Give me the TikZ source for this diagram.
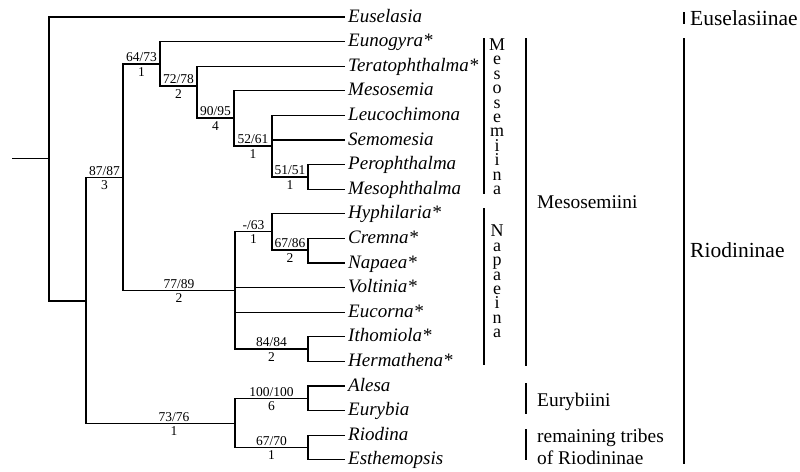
\documentclass[tikz,border=0pt]{standalone}
\usepackage{fontspec}
\setmainfont{Liberation Serif}
\begin{document}
\begin{tikzpicture}[x=1pt,y=-1pt,
  br/.style={line width=1.2pt},
  bar/.style={line width=1.3pt},
  bigbar/.style={line width=2pt},
  tax/.style={font=\fontsize{19}{22}\selectfont\itshape, anchor=base west, inner sep=0pt, xshift=3pt, yshift=-5pt},
  sup/.style={font=\fontsize{13.5}{15}\selectfont, anchor=base, inner sep=0pt, yshift=2.3pt},
  sdn/.style={font=\fontsize{13.5}{15}\selectfont, anchor=base, inner sep=0pt, yshift=-12pt},
  vstack/.style={font=\fontsize{18}{14.4}\selectfont, align=center, anchor=north, inner sep=0pt},
  grp/.style={font=\fontsize{19.4}{21}\selectfont, anchor=base west, inner sep=0pt},
  sfam/.style={font=\fontsize{21.5}{24}\selectfont, anchor=base west, inner sep=0pt}]
\useasboundingbox (0,0) rectangle (800,471);

% tips
\foreach \i in {0,...,18}{
  \coordinate (t\i) at (345,{17+24.6*\i});
}
% internal nodes
\coordinate (r0) at (12,158.5);
\coordinate (root) at (49,158.5);
\coordinate (R) at (86,301);
\coordinate (M) at (123,177.5);
\coordinate (Ms1) at (160,64);
\coordinate (Ms2) at (197,86);
\coordinate (Ms3) at (234,118);
\coordinate (Ms4) at (272,146);
\coordinate (Ms5) at (308,177);
\coordinate (Np) at (235,290.5);
\coordinate (Np1) at (272,231.5);
\coordinate (Np2) at (308,250);
\coordinate (Np3) at (308,349);
\coordinate (Eb) at (235,423.5);
\coordinate (Eb1) at (308,398.5);
\coordinate (Eb2) at (308,447.5);

% branches
\draw[br] (r0) -- (root);
\draw[br] (root) |- (t0);
\draw[br] (root) |- (R);
\draw[br] (R) |- (M);
\draw[br] (R) |- (Eb);
\draw[br] (M) |- (Ms1);
\draw[br] (M) |- (Np);
\draw[br] (Ms1) |- (t1);
\draw[br] (Ms1) |- (Ms2);
\draw[br] (Ms2) |- (t2);
\draw[br] (Ms2) |- (Ms3);
\draw[br] (Ms3) |- (t3);
\draw[br] (Ms3) |- (Ms4);
\draw[br] (Ms4) |- (t4);
\draw[br] (Ms4) |- (t5);
\draw[br] (Ms4) |- (Ms5);
\draw[br] (Ms5) |- (t6);
\draw[br] (Ms5) |- (t7);
\draw[br] (Np) |- (Np1);
\draw[br] (Np1) |- (t8);
\draw[br] (Np1) |- (Np2);
\draw[br] (Np2) |- (t9);
\draw[br] (Np2) |- (t10);
\draw[br] (Np) |- (t11);
\draw[br] (Np) |- (t12);
\draw[br] (Np) |- (Np3);
\draw[br] (Np3) |- (t13);
\draw[br] (Np3) |- (t14);
\draw[br] (Eb) |- (Eb1);
\draw[br] (Eb) |- (Eb2);
\draw[br] (Eb1) |- (t15);
\draw[br] (Eb1) |- (t16);
\draw[br] (Eb2) |- (t17);
\draw[br] (Eb2) |- (t18);

% taxon names
\node[tax] (n0) at (t0) {Euselasia};
\node[tax] (n1) at (t1) {Eunogyra*};
\node[tax] (n2) at (t2) {Teratophthalma*};
\node[tax] (n3) at (t3) {Mesosemia};
\node[tax] (n4) at (t4) {Leucochimona};
\node[tax] (n5) at (t5) {Semomesia};
\node[tax] (n6) at (t6) {Perophthalma};
\node[tax] (n7) at (t7) {Mesophthalma};
\node[tax] (n8) at (t8) {Hyphilaria*};
\node[tax] (n9) at (t9) {Cremna*};
\node[tax] (n10) at (t10) {Napaea*};
\node[tax] (n11) at (t11) {Voltinia*};
\node[tax] (n12) at (t12) {Eucorna*};
\node[tax] (n13) at (t13) {Ithomiola*};
\node[tax] (n14) at (t14) {Hermathena*};
\node[tax] (n15) at (t15) {Alesa};
\node[tax] (n16) at (t16) {Eurybia};
\node[tax] (n17) at (t17) {Riodina};
\node[tax] (n18) at (t18) {Esthemopsis};

% support values
\node[sup] (a1) at (104.5,177.5) {87/87}; \node[sdn] (b1) at (104.5,177.5) {3};
\node[sup] (a2) at (141.5,64) {64/73};    \node[sdn] (b2) at (141.5,64) {1};
\node[sup] (a3) at (178.5,86) {72/78};    \node[sdn] (b3) at (178.5,86) {2};
\node[sup] (a4) at (215.5,118) {90/95};   \node[sdn] (b4) at (215.5,118) {4};
\node[sup] (a5) at (253,146) {52/61};     \node[sdn] (b5) at (253,146) {1};
\node[sup] (a6) at (290,177) {51/51};     \node[sdn] (b6) at (290,177) {1};
\node[sup] (a7) at (179,290.5) {77/89};   \node[sdn] (b7) at (179,290.5) {2};
\node[sup] (a8) at (253.5,231.5) {-/63};  \node[sdn] (b8) at (253.5,231.5) {1};
\node[sup] (a9) at (290,250) {67/86};     \node[sdn] (b9) at (290,250) {2};
\node[sup] (a10) at (271.5,349) {84/84};  \node[sdn] (b10) at (271.5,349) {2};
\node[sup] (a11) at (174,423.5) {73/76};  \node[sdn] (b11) at (174,423.5) {1};
\node[sup] (a12) at (271.5,398.5) {100/100}; \node[sdn] (b12) at (271.5,398.5) {6};
\node[sup] (a13) at (271.5,447.5) {67/70};   \node[sdn] (b13) at (271.5,447.5) {1};

% group bars
\coordinate (msa) at (484,38);   \coordinate (msb) at (484,194);
\coordinate (npa) at (484,208);  \coordinate (npb) at (484,365);
\coordinate (mia) at (526,38);   \coordinate (mib) at (526,366);
\coordinate (eba) at (526,383);  \coordinate (ebb) at (526,414);
\coordinate (rta) at (526,429);  \coordinate (rtb) at (526,460);
\coordinate (esa) at (684,12);   \coordinate (esb) at (684,24);
\coordinate (rda) at (684,38);   \coordinate (rdb) at (684,464);
\draw[bar] (msa) -- (msb);
\draw[bar] (npa) -- (npb);
\draw[bar] (mia) -- (mib);
\draw[bar] (eba) -- (ebb);
\draw[bar] (rta) -- (rtb);
\draw[bigbar] (esa) -- (esb);
\draw[bigbar] (rda) -- (rdb);

% vertical subtribe names
\node[vstack] (msl) at (497,38.6) {M\\e\\s\\o\\s\\e\\m\\i\\i\\n\\a};
\node[vstack] (npl) at (497,225) {N\\a\\p\\a\\e\\i\\n\\a};

% group labels
\node[grp] (gmi) at (537,208.5) {Mesosemiini};
\node[grp] (geb) at (537,406) {Eurybiini};
\node[grp] (grt1) at (537,442) {remaining tribes};
\node[grp] (grt2) at (537,464) {of Riodininae};
\node[sfam] (ges) at (690,25.5) {Euselasiinae};
\node[sfam] (grd) at (690,257.5) {Riodininae};
\end{tikzpicture}
\end{document}
